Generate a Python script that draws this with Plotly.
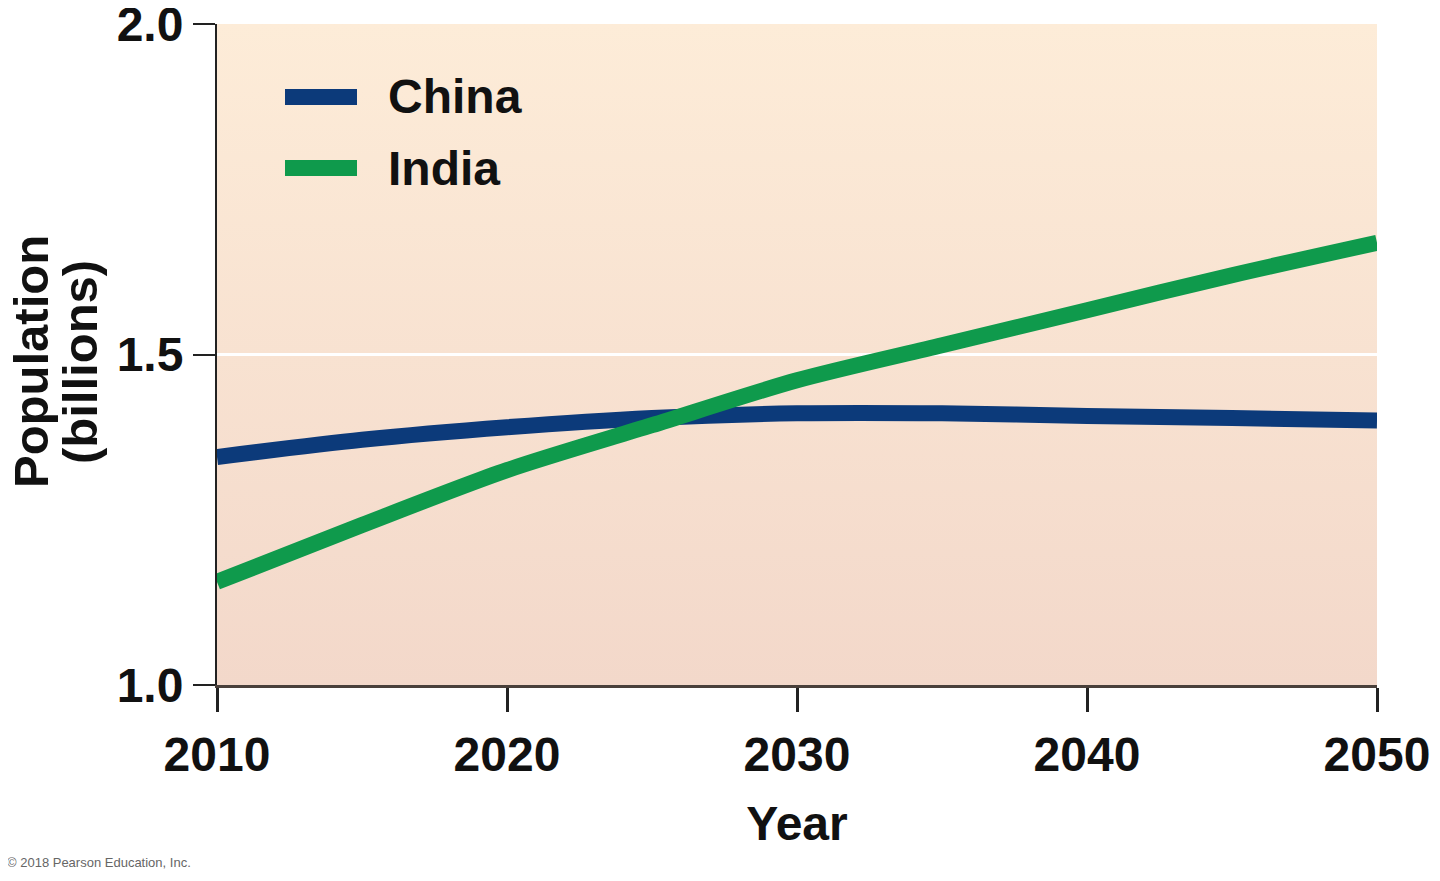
import plotly.graph_objects as go

years = [2010, 2015, 2020, 2025, 2030, 2035, 2040, 2045, 2050]
china = [1.345, 1.371, 1.390, 1.404, 1.411, 1.411, 1.407, 1.404, 1.400]
india = [1.156, 1.242, 1.325, 1.393, 1.461, 1.514, 1.567, 1.620, 1.669]
series_names = ["China", "India"]
series_colors = ["#0c3a7a", "#0f9a4c"]
x_ticks = [2010, 2020, 2030, 2040, 2050]
y_ticks = [1.0, 1.5, 2.0]
y_ticklabels = ["1.0", "1.5", "2.0"]
y_title_lines = ["Population", "(billions)"]

FONT = "Liberation Sans"
# page body has an 8px margin; plot area target: x 217..1377, y 24..685 (page px)
OFF = 8
L, T, PW, PH = 217 - OFF, 24 - OFF, 1160, 661
W, H = 1440 - OFF, 881 - OFF

fig = go.Figure()

# gradient background of the plot area
fig.add_trace(go.Scatter(
    x=[2010, 2050, 2050, 2010, 2010], y=[1.0, 1.0, 2.0, 2.0, 1.0],
    mode="lines", line=dict(width=0), fill="toself",
    fillgradient=dict(type="vertical", colorscale=[[0, "#f3d8ca"], [1, "#fdecd8"]]),
    hoverinfo="skip", showlegend=False,
))

# white gridline at 1.5
fig.add_trace(go.Scatter(
    x=[2010, 2050], y=[1.5, 1.5], mode="lines",
    line=dict(color="#ffffff", width=3), hoverinfo="skip", showlegend=False,
))

for name, vals, col in zip(series_names, [china, india], series_colors):
    fig.add_trace(go.Scatter(
        x=years, y=vals, mode="lines", name=name,
        line=dict(color=col, width=16, shape="spline", smoothing=0.8),
        showlegend=False,
    ))

# custom legend (sample lines + labels)
legend_y = [97, 168]  # page pixel rows
for name, col, py in zip(series_names, series_colors, legend_y):
    yy = 1 - (py - 24) / PH
    fig.add_shape(type="line", xref="paper", yref="paper",
                  x0=(285 - 217) / PW, x1=(357 - 217) / PW, y0=yy, y1=yy,
                  line=dict(color=col, width=16))
    fig.add_annotation(xref="paper", yref="paper", x=(386 - 217) / PW, y=yy,
                       xanchor="left", yanchor="middle", text=name, showarrow=False,
                       font=dict(family=FONT, size=48, color="#111111", weight="bold"))

# y-axis title, two rotated lines
for txt, px in zip(y_title_lines, [31, 80]):
    fig.add_annotation(xref="paper", yref="paper", x=0, xshift=px - 217,
                       y=1 - (362 - 24) / PH, xanchor="center", yanchor="middle",
                       textangle=-90, text=txt, showarrow=False,
                       font=dict(family=FONT, size=49, color="#111111", weight="bold"))

fig.add_annotation(xref="paper", yref="paper", x=0, y=0, xshift=-212, yshift=-177,
                   xanchor="left", yanchor="middle", showarrow=False,
                   text="© 2018 Pearson Education, Inc.",
                   font=dict(family=FONT, size=13, color="#666666"))

fig.update_layout(
    width=W, height=H,
    margin=dict(l=L, r=W - L - PW, t=T, b=H - T - PH),
    paper_bgcolor="#ffffff", plot_bgcolor="#ffffff",
    font=dict(family=FONT, color="#111111"),
    xaxis=dict(
        range=[2010, 2050], tickvals=x_ticks, ticks="outside", ticklen=24, tickwidth=3,
        tickcolor="#222222", showgrid=False, zeroline=False, showline=True,
        linecolor="#4a403b", linewidth=3, ticklabeloverflow="allow", automargin=False,
        tickfont=dict(family=FONT, size=48, color="#111111", weight="bold"),
        ticklabelstandoff=1,
        title=dict(text="Year", font=dict(family=FONT, size=48, color="#111111", weight="bold"),
                   standoff=27),
    ),
    yaxis=dict(
        range=[1.0, 2.0], tickvals=y_ticks, ticktext=y_ticklabels, ticks="outside",
        ticklen=22, tickwidth=2, tickcolor="#222222", showgrid=False, zeroline=False,
        showline=True, linecolor="#222222", linewidth=2, ticklabeloverflow="allow",
        automargin=False,
        tickfont=dict(family=FONT, size=48, color="#111111", weight="bold"),
    ),
)

fig.write_html("out.html")
